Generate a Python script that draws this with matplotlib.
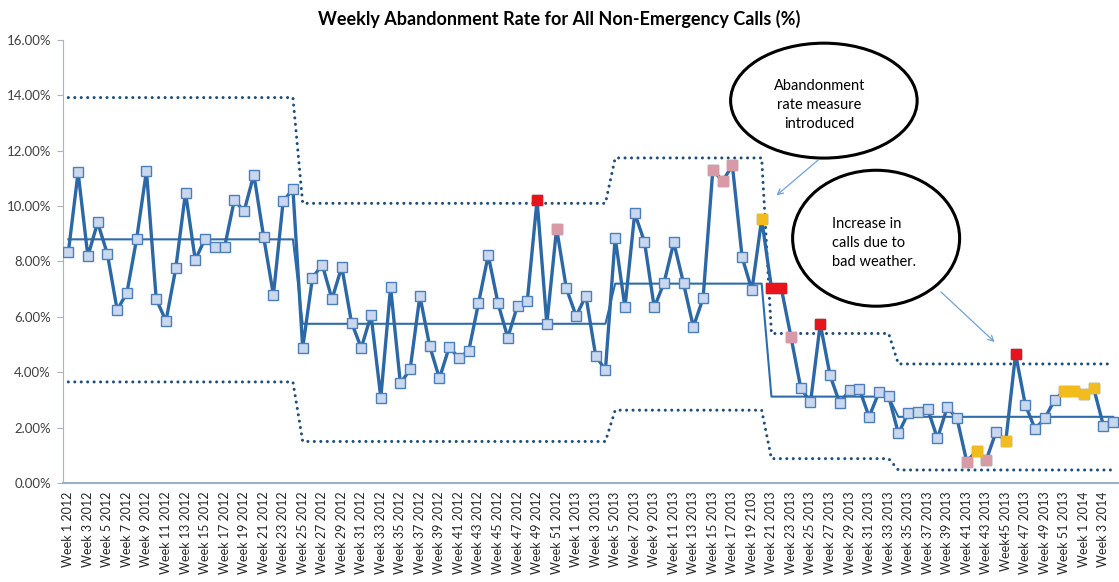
import numpy as np
import matplotlib.pyplot as plt
from matplotlib.patches import Ellipse

plt.rcParams['font.family'] = ['Lato', 'DejaVu Sans']

# weekly abandonment rate (%), Week 1 2012 .. Week 4 2014
rate = [8.33, 11.22, 8.19, 9.41, 8.27, 6.25, 6.87, 8.83, 11.27, 6.64,
        5.85, 7.75, 10.49, 8.05, 8.83, 8.52, 8.52, 10.22, 9.82, 11.14,
        8.89, 6.79, 10.18, 10.61,
        4.88, 7.41, 7.89, 6.64, 7.81, 5.79, 4.88, 6.06, 3.08, 7.08,
        3.60, 4.10, 6.76, 4.95, 3.78, 4.90, 4.52, 4.77, 6.49, 8.23,
        6.49, 5.25, 6.41, 6.58, 10.22, 5.74, 9.19, 7.03,
        6.03, 6.76, 4.60, 4.08,
        8.86, 6.34, 9.74, 8.71, 6.34, 7.23, 8.69, 7.21, 5.64, 6.67,
        11.32, 10.90, 11.47, 8.15, 6.97, 9.53,
        7.05, 7.05, 5.28, 3.44, 2.91, 5.75, 3.89, 2.88, 3.36, 3.40,
        2.39, 3.27, 3.14,
        1.79, 2.52, 2.55, 2.67, 1.61, 2.73, 2.34, 0.77, 1.16, 0.83,
        1.85, 1.52, 4.66, 2.82, 1.95, 2.34, 3.00, 3.33, 3.33, 3.21,
        3.42, 2.07, 2.21]

# control-chart phases: first index, centre line, upper / lower limits
phase_start = [0, 24, 56, 72, 85]
phase_mean = [8.80, 5.75, 7.20, 3.12, 2.39]
phase_ucl = [13.92, 10.10, 11.74, 5.40, 4.30]
phase_lcl = [3.65, 1.50, 2.63, 0.88, 0.47]

# flagged points
red_pts = [48, 72, 73, 77, 97]
pink_pts = [50, 66, 67, 68, 74, 92, 94]
yellow_pts = [71, 93, 96, 102, 103, 104, 105]

week_labels = ['Week 1 2012', 'Week 3 2012', 'Week 5 2012', 'Week 7 2012', 'Week 9 2012',
               'Week 11 2012', 'Week 13 2012', 'Week 15 2012', 'Week 17 2012', 'Week 19 2012',
               'Week 21 2012', 'Week 23 2012', 'Week 25 2012', 'Week 27 2012', 'Week 29 2012',
               'Week 31 2012', 'Week 33 2012', 'Week 35 2012', 'Week 37 2012', 'Week 39 2012',
               'Week 41 2012', 'Week 43 2012', 'Week 45 2012', 'Week 47 2012', 'Week 49 2012',
               'Week 51 2012',
               'Week 1 2013', 'Week 3 2013', 'Week 5 2013', 'Week 7 2013', 'Week 9 2013',
               'Week 11 2013', 'Week 13 2013', 'Week 15 2013', 'Week 17 2013', 'Week 19 2103',
               'Week 21 2013', 'Week 23 2013', 'Week 25 2013', 'Week 27 2013', 'Week 29 2013',
               'Week 31 2013', 'Week 33 2013', 'Week 35 2013', 'Week 37 2013', 'Week 39 2013',
               'Week 41 2013', 'Week 43 2013', 'Week45 2013', 'Week 47 2013', 'Week 49 2013',
               'Week 51 2013',
               'Week 1 2014', 'Week 3 2014']


def expand(levels, n):
    counts = np.diff(phase_start + [n])
    return np.repeat(levels, counts)


def draw():
    n = len(rate)
    x = np.arange(n)
    mean = expand(phase_mean, n)
    ucl = expand(phase_ucl, n)
    lcl = expand(phase_lcl, n)

    fig = plt.figure(figsize=(11.19, 5.82), dpi=100)
    ax = fig.add_axes([0.0567, 0.1701, 0.9425, 0.7612])

    dots = dict(color='#1F4E79', linewidth=2.2, linestyle=(0, (0.01, 2.1)),
                dash_capstyle='round', zorder=2)
    ax.plot(x, ucl, **dots)
    ax.plot(x, lcl, **dots)
    ax.plot(x, mean, color='#2E6DAB', linewidth=1.5, zorder=3)

    ax.plot(x, rate, color='#2C68A6', linewidth=2.4, marker='s', markersize=7,
            markerfacecolor='#C9D8EE', markeredgecolor='#4C7FBA', markeredgewidth=1.0,
            zorder=4)

    r = np.array(rate)
    for pts, col in [(red_pts, '#E8141C'), (pink_pts, '#D99AA8'), (yellow_pts, '#F2BC1E')]:
        ax.plot(pts, r[pts], linestyle='none', marker='s', markersize=7.5,
                markerfacecolor=col, markeredgecolor=col, zorder=5)

    ax.set_xlim(-0.5, n - 0.5)
    ax.set_ylim(0, 16)
    ax.set_yticks(np.arange(0, 17, 2))
    ax.set_yticklabels(['%.2f%%' % v for v in np.arange(0, 17, 2)])
    ax.set_xticks(x[::2])
    ax.set_xticklabels(week_labels, rotation=90, fontsize=9)
    ax.tick_params(axis='x', length=0, pad=6, colors='#262626')
    ax.tick_params(axis='y', length=4, pad=5, labelsize=9.5, colors='#404040',
                   color='#A6B4C4')

    for s in ['top', 'right']:
        ax.spines[s].set_visible(False)
    ax.spines['left'].set_color('#A6B4C4')
    ax.spines['bottom'].set_color('#9BB0C4')
    ax.spines['bottom'].set_linewidth(1.5)

    fig.text(0.5, 0.968, 'Weekly Abandonment Rate for All Non-Emergency Calls (%)',
             ha='center', va='center', fontsize=13, fontweight='bold')

    # callouts
    ax.add_patch(Ellipse((77.37, 13.81), 19.1, 4.15, facecolor='white',
                         edgecolor='black', linewidth=2.2, zorder=6, clip_on=False))
    ax.text(76.9, 13.66, 'Abandonment\nrate measure\nintroduced', ha='center', va='center',
            fontsize=10.5, linespacing=1.45, zorder=7)
    ax.annotate('', xy=(72.3, 10.32), xytext=(77.0, 11.73),
                arrowprops=dict(arrowstyle='->', color='#6FA3D6', lw=0.9), zorder=7)

    ax.add_patch(Ellipse((82.72, 8.84), 17.1, 4.91, facecolor='white',
                         edgecolor='black', linewidth=2.2, zorder=6, clip_on=False))
    ax.text(78.23, 8.68, 'Increase in\ncalls due to\nbad weather.', ha='left', va='center',
            fontsize=10.5, linespacing=1.45, zorder=7)
    ax.annotate('', xy=(95.07, 5.02), xytext=(89.15, 6.97),
                arrowprops=dict(arrowstyle='->', color='#6FA3D6', lw=0.9), zorder=7)

    fig.savefig('out.png', dpi=100)


if __name__ == '__main__':
    draw()
